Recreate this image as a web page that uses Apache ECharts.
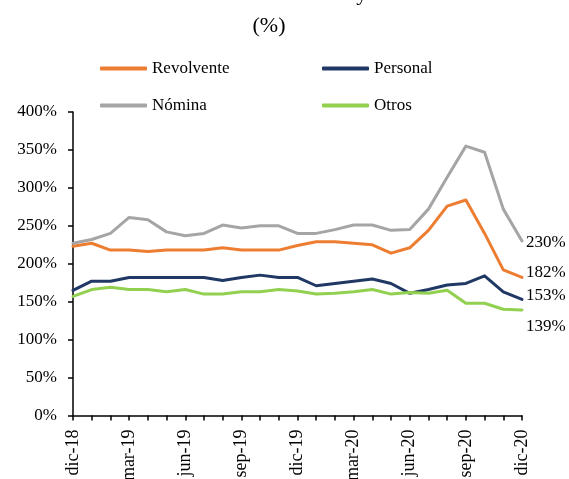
<!DOCTYPE html>
<html>
<head>
<meta charset="utf-8">
<script src="https://cdn.jsdelivr.net/npm/echarts@6/dist/echarts.min.js"></script>
<style>
  html, body { margin: 0; padding: 0; background: #fff; }
  #chart { width: 569px; height: 479px; }
</style>
</head>
<body>
<div id="chart"></div>
<script>
// Monthly categories, dic-18 .. dic-20
const months = [
  'dic-18', 'ene-19', 'feb-19', 'mar-19', 'abr-19', 'may-19', 'jun-19', 'jul-19', 'ago-19',
  'sep-19', 'oct-19', 'nov-19', 'dic-19', 'ene-20', 'feb-20', 'mar-20', 'abr-20', 'may-20',
  'jun-20', 'jul-20', 'ago-20', 'sep-20', 'oct-20', 'nov-20', 'dic-20'
];

// Coverage ratios (%)
const revolvente = [223, 227, 218, 218, 216, 218, 218, 218, 221, 218, 218, 218, 224, 229, 229, 227, 225, 214, 221, 244, 276, 284, 240, 192, 182];
const personal   = [165, 177, 177, 182, 182, 182, 182, 182, 178, 182, 185, 182, 182, 171, 174, 177, 180, 174, 161, 166, 172, 174, 184, 163, 153];
const nomina     = [227, 232, 240, 261, 258, 242, 237, 240, 251, 247, 250, 250, 240, 240, 245, 251, 251, 244, 245, 272, 314, 355, 347, 272, 230];
const otros      = [157, 166, 169, 166, 166, 163, 166, 160, 160, 163, 163, 166, 164, 160, 161, 163, 166, 160, 162, 161, 165, 148, 148, 140, 139];

const FONT = "'Liberation Serif', 'Times New Roman', serif";
const TXT = '#000';

function lineSeries(name, data, color, labelOffsetY) {
  return {
    name: name,
    type: 'line',
    data: data,
    symbol: 'none',
    smooth: false,
    clip: false,
    lineStyle: { color: color, width: 3, cap: 'round', join: 'round' },
    itemStyle: { color: color },
    endLabel: {
      show: true,
      distance: 4,
      offset: [0, labelOffsetY],
      fontFamily: FONT,
      fontSize: 17,
      color: TXT,
      formatter: p => p.value + '%'
    }
  };
}

function legendAt(name, left, top) {
  return {
    data: [name],
    left: left,
    top: top,
    icon: 'roundRect',
    itemWidth: 47,
    itemHeight: 4,
    itemGap: 0,
    padding: 0,
    textStyle: { fontFamily: FONT, fontSize: 17, color: TXT, padding: [0, 0, 0, 0] }
  };
}

const chart = echarts.init(document.getElementById('chart'), null, { renderer: 'canvas' });

chart.setOption({
  animation: false,
  backgroundColor: '#fff',
  graphic: [
    {
      type: 'text', x: 270, y: 5,
      style: {
        text: 'Cobertura de consumo: revolvente y no revolvente',
        fontFamily: FONT, fontSize: 22, fill: TXT, align: 'center', verticalAlign: 'bottom'
      }
    },
    {
      type: 'text', x: 269, y: 26,
      style: { text: '(%)', fontFamily: FONT, fontSize: 22, fill: TXT, align: 'center', verticalAlign: 'middle' }
    }
  ],
  legend: [
    legendAt('Revolvente', 100, 60),
    legendAt('Personal', 322, 60),
    legendAt('Nómina', 100, 97),
    legendAt('Otros', 322, 97)
  ],
  grid: { left: 73, right: 47, top: 112, bottom: 63.5, containLabel: false, outerBoundsMode: 'none' },
  xAxis: {
    type: 'category',
    data: months,
    boundaryGap: false,
    axisLine: { lineStyle: { color: '#000', width: 1.5 } },
    axisTick: { show: true, interval: 0, length: 5, lineStyle: { color: '#000', width: 1.5 } },
    axisLabel: { interval: 2, rotate: 90, margin: 14, fontFamily: FONT, fontSize: 18, color: TXT },
    splitLine: { show: false }
  },
  yAxis: {
    type: 'value',
    min: 0,
    max: 400,
    interval: 50,
    axisLine: { show: true, lineStyle: { color: '#000', width: 1.5 } },
    axisTick: { show: true, length: 5, lineStyle: { color: '#000', width: 1.5 } },
    axisLabel: { formatter: '{value}%', margin: 16, fontFamily: FONT, fontSize: 17, color: TXT },
    splitLine: { show: false }
  },
  series: [
    lineSeries('Revolvente', revolvente, '#ED7D31', -5),
    lineSeries('Personal', personal, '#1F3864', -4),
    lineSeries('Nómina', nomina, '#A5A5A5', 2),
    lineSeries('Otros', otros, '#92D050', 16)
  ]
});
</script>
</body>
</html>
